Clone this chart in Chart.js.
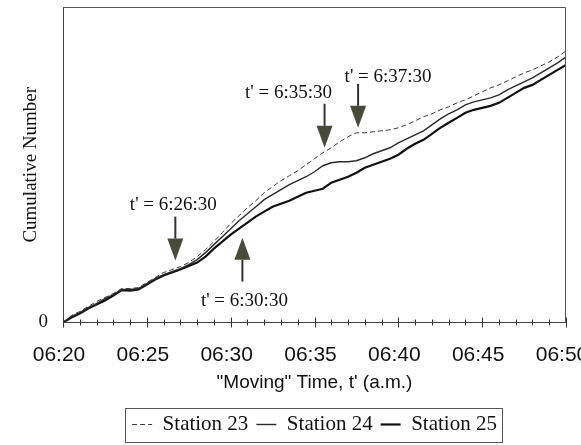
<!DOCTYPE html>
<html>
<head>
<meta charset="utf-8">
<script src="https://cdn.jsdelivr.net/npm/chart.js@4/dist/chart.umd.min.js"></script>
<style>
  html, body { margin: 0; padding: 0; background: #ffffff; }
  #wrap { width: 581px; height: 445px; position: relative; }
</style>
</head>
<body>
<div id="wrap"><canvas id="c" width="581" height="445"></canvas></div>
<script>
// Minutes after 06:20 ("moving" time t')
const times = [0,0.5,1,1.5,2,2.5,3,3.5,4,4.5,5,5.5,6,6.5,7,7.5,8,8.5,9,9.5,10,10.5,11,11.5,12,12.5,13,13.5,14,14.5,15,15.5,16,16.5,17,17.5,18,18.5,19,19.5,20,20.5,21,21.5,22,22.5,23,23.5,24,24.5,25,25.5,26,26.5,27,27.5,28,28.5,29,29.5,30];

// Cumulative number (arbitrary units)
const station23 = [0,7,11,16,21,25,29,34,34,35,40,45,50,53,56,60,66,73,81,90,99,107,115,122,130,136,142,147,152,158,164,170,175,181,186,190,190,191,192,193,195,198,202,206,209,213,216,220,223,227,231,235,238,242,246,250,253,257,261,266,272];
const station24 = [0,6,10,15,19,24,28,33,33,34,39,44,48,51,54,58,63,70,78,86,94,102,109,116,123,128,133,138,142,146,151,157,160,161,161,162,165,169,172,175,180,184,188,192,198,204,209,213,218,221,223,225,228,233,237,241,245,250,255,260,266];
const station25 = [0,5,9,14,18,22,27,32.5,32,33,38,43,47,50,53,56.5,60,66,74,81,88,94,100,106,111,116,119,122,126,130,132,134,140,143,146,150,155,158,161,164,168,174,179,183,189,195,200,205,210,213,215,217,220,225,230,235,238,243,248,253,258];

const seriesNames = ['Station 23', 'Station 24', 'Station 25'];
const xTickLabels = ['06:20','06:25','06:30','06:35','06:40','06:45','06:50'];
const yTickLabels = ['0'];

// Annotations: label, arrow position (minutes), arrow tip (cumulative units), direction
const annotLabels = ["t' = 6:26:30", "t' = 6:30:30", "t' = 6:35:30", "t' = 6:37:30"];
const annotTimes  = [6.7, 10.7, 15.6, 17.6];
const annotTips   = [62, 85, 175, 195];
const annotDirs   = ['down', 'up', 'down', 'down'];

function toPoints(vals) { return vals.map((v, i) => ({ x: times[i], y: v })); }

const textOffsets = [ {dx: -2, dy: -7}, {dx: 2, dy: 24}, {dx: -36, dy: -6}, {dx: 30, dy: -2} ];

const annotPlugin = {
  id: 'annot',
  afterDatasetsDraw(chart) {
    const ctx = chart.ctx, xs = chart.scales.x, ys = chart.scales.y, ca = chart.chartArea;
    ctx.save();
    // frame top & right
    ctx.strokeStyle = '#555';
    ctx.lineWidth = 1;
    ctx.beginPath();
    ctx.moveTo(ca.left, ca.top + 0.5);
    ctx.lineTo(ca.right - 0.5, ca.top + 0.5);
    ctx.lineTo(ca.right - 0.5, ca.bottom);
    ctx.stroke();
    // minute ticks crossing x axis
    ctx.strokeStyle = '#333';
    const y0 = ys.getPixelForValue(0);
    for (let m = 0; m <= 30; m++) {
      const px = Math.round(xs.getPixelForValue(m)) + 0.5;
      const len = (m % 5 === 0) ? 5 : 3;
      ctx.beginPath();
      ctx.moveTo(px, y0 - len);
      ctx.lineTo(px, y0 + len);
      ctx.stroke();
    }
    // arrows + labels
    const shaft = 22, headH = 22, headW = 8;
    ctx.font = '19px "Liberation Serif", "Times New Roman", serif';
    ctx.textAlign = 'center';
    ctx.textBaseline = 'alphabetic';
    for (let i = 0; i < annotLabels.length; i++) {
      const ax = xs.getPixelForValue(annotTimes[i]);
      const tipY = ys.getPixelForValue(annotTips[i]);
      const s = annotDirs[i] === 'down' ? -1 : 1; // direction from tip toward tail
      const baseY = tipY + s * headH;
      const tailY = baseY + s * shaft;
      ctx.strokeStyle = '#333';
      ctx.lineWidth = 2;
      ctx.beginPath();
      ctx.moveTo(ax, baseY);
      ctx.lineTo(ax, tailY);
      ctx.stroke();
      ctx.fillStyle = '#4a4a3c';
      ctx.beginPath();
      ctx.moveTo(ax, tipY);
      ctx.lineTo(ax - headW, baseY);
      ctx.lineTo(ax + headW, baseY);
      ctx.closePath();
      ctx.fill();
      ctx.fillStyle = '#111';
      const o = textOffsets[i];
      ctx.fillText(annotLabels[i], ax + o.dx, tailY + o.dy);
    }
    ctx.restore();
  },
  afterDraw(chart) {
    const hb = chart.legend && chart.legend.legendHitBoxes;
    if (!hb || !hb.length) return;
    const ctx = chart.ctx;
    const first = hb[0], last = hb[hb.length - 1];
    const left = first.left - 7, right = last.left + last.width + 5;
    const top = first.top - 6, bottom = first.top + first.height + 7;
    ctx.save();
    ctx.strokeStyle = '#555';
    ctx.lineWidth = 1;
    ctx.strokeRect(Math.round(left) + 0.5, Math.round(top) + 0.5, Math.round(right - left), Math.round(bottom - top));
    ctx.restore();
  }
};

new Chart(document.getElementById('c'), {
  type: 'line',
  data: {
    datasets: [
      { label: seriesNames[0], data: toPoints(station23), borderColor: '#3a3a3a', backgroundColor: '#3a3a3a', borderWidth: 1, borderDash: [5, 3], pointRadius: 0, pointStyle: 'line', tension: 0 },
      { label: seriesNames[1], data: toPoints(station24), borderColor: '#2a2a2a', backgroundColor: '#2a2a2a', borderWidth: 1.4, pointRadius: 0, pointStyle: 'line', tension: 0 },
      { label: seriesNames[2], data: toPoints(station25), borderColor: '#111', backgroundColor: '#111', borderWidth: 2.2, pointRadius: 0, pointStyle: 'line', tension: 0 }
    ]
  },
  options: {
    responsive: false,
    animation: false,
    layout: { padding: { left: 0, right: 15, top: 7, bottom: 0 } },
    plugins: {
      tooltip: { enabled: false },
      legend: {
        position: 'bottom',
        fullSize: false,
        labels: {
          font: { family: '"Liberation Serif", "Times New Roman", serif', size: 21 },
          color: '#111',
          usePointStyle: true,
          pointStyle: 'line',
          pointStyleWidth: 20,
          boxWidth: 20,
          boxHeight: 10,
          padding: 8,
          generateLabels(chart) {
            const items = Chart.defaults.plugins.legend.labels.generateLabels(chart);
            items.forEach((it) => {
              const ds = chart.data.datasets[it.datasetIndex];
              it.lineDash = ds.borderDash || [];
              it.lineWidth = ds.borderWidth;
              it.strokeStyle = ds.borderColor;
            });
            return items;
          }
        }
      }
    },
    scales: {
      x: {
        type: 'linear',
        min: 0, max: 30,
        grid: { display: false, drawTicks: false },
        border: { display: true, color: '#444', width: 1 },
        ticks: {
          stepSize: 5,
          autoSkip: false,
          maxRotation: 0,
          padding: 20,
          labelOffset: -4,
          color: '#111',
          font: { family: '"Liberation Sans", Arial, sans-serif', size: 21 },
          callback: (v) => xTickLabels[Math.round(v / 5)]
        },
        title: {
          display: true,
          text: '"Moving" Time, t\' (a.m.)',
          color: '#111',
          font: { family: '"Liberation Sans", Arial, sans-serif', size: 19 },
          padding: { top: 0, bottom: 12 }
        },
        afterFit(scale) { scale.height = 83.5; scale.paddingRight = 0; scale.paddingLeft = 0; scale.paddingTop = 0; scale.paddingBottom = 0; }
      },
      y: {
        min: 0, max: 316,
        grid: { display: false, drawTicks: false },
        border: { display: true, color: '#444', width: 1 },
        afterBuildTicks(scale) { scale.ticks = [{ value: 0 }]; },
        ticks: {
          padding: 15,
          color: '#111',
          font: { family: '"Liberation Serif", "Times New Roman", serif', size: 19 },
          callback: () => yTickLabels[0]
        },
        title: {
          display: true,
          text: 'Cumulative Number',
          color: '#111',
          font: { family: '"Liberation Serif", "Times New Roman", serif', size: 19 },
          padding: { top: 19.5, bottom: 0 }
        },
        afterFit(scale) { scale.width = 63; scale.paddingTop = 0; scale.paddingBottom = 0; scale.paddingLeft = 0; scale.paddingRight = 0; }
      }
    }
  },
  plugins: [annotPlugin]
});
</script>
</body>
</html>
